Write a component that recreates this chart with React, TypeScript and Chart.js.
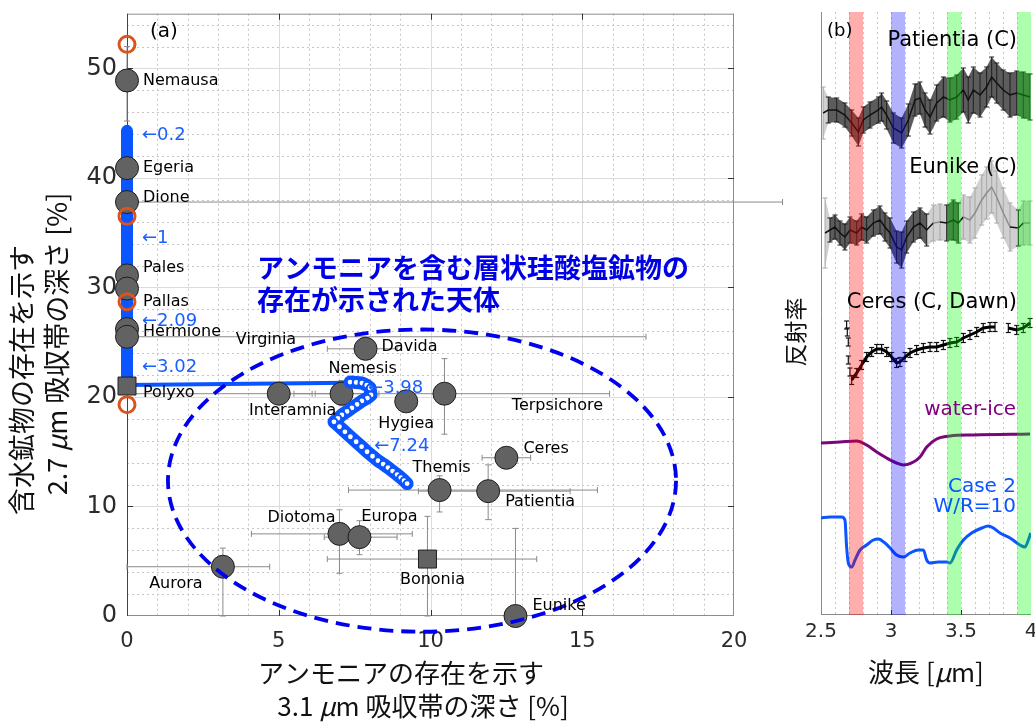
import React, { useEffect, useRef } from 'react';
import { Chart, registerables } from 'chart.js';

Chart.register(...registerables);

const FONT = "'DejaVu Sans', sans-serif";
const JFONT = "'Noto Sans CJK JP', sans-serif";

// ================= Panel (a) data =================
const asteroidNames = ['Nemausa', 'Egeria', 'Dione', 'Pales', 'Pallas', 'Hermione', 'Virginia', 'Polyxo', 'Interamnia', 'Nemesis', 'Davida', 'Hygiea', 'Terpsichore', 'Ceres', 'Themis', 'Patientia', 'Diotoma', 'Europa', 'Aurora', 'Bononia', 'Eunike'];
// 3.1 um band depth [%]
const nh4Depth = [0, 0, 0, 0, 0, 0, 0, 0, 5.0, 7.07, 7.86, 9.2, 10.46, 12.5, 10.3, 11.9, 7.0, 7.66, 3.16, 9.9, 12.8];
// 2.7 um band depth [%]
const ohDepth = [48.9, 40.9, 37.8, 31.1, 29.9, 26.2, 25.5, 21.0, 20.3, 20.3, 24.4, 19.6, 20.3, 14.45, 11.5, 11.4, 7.5, 7.2, 4.5, 5.2, 0];
const nh4ErrMin = [0, 0, 0, 0, 0, 0, 0, 0, 0, 6.2, 6.6, 9.2, 5.5, 11.7, 7.3, 9.6, 4.1, 6.5, 0, 6.6, 12.8];
const nh4ErrMax = [0, 0, 21.6, 0, 0, 0, 17.1, 0, 6.1, 8.3, 8.9, 9.2, 15.9, 13.3, 15.5, 14.6, 9.4, 8.9, 4.7, 13.5, 12.8];
const ohErrMin = [45.2, 40.9, 37.8, 31.1, 29.9, 26.2, 25.5, 21.0, 19.4, 19.2, 24.4, 19.0, 16.6, 13.9, 9.5, 8.8, 3.9, 5.6, 0, 0, 0];
const ohErrMax = [52.0, 40.9, 37.8, 31.1, 29.9, 26.2, 25.5, 21.0, 21.2, 21.5, 24.4, 20.2, 23.5, 15.0, 12.8, 13.8, 9.7, 8.7, 6.2, 9.1, 8.0];
const squareMarkers = ['Polyxo', 'Bononia'];

// orange open circles
const altNh4Depth = [0, 0, 0, 0];
const altOhDepth = [52.2, 36.5, 28.7, 19.3];

// model track (Case 2)
const modelTrunkX = [0, 0];
const modelTrunkY = [44.3, 21.1];
const modelBranchX = [0, 7.35];
const modelBranchY = [21.1, 21.3];
const modelTailX = [7.35, 7.55, 7.74, 7.9, 8.01, 8.04, 7.92, 7.74, 7.58, 7.41, 7.25, 7.08, 6.95, 6.82, 7.0, 7.18, 7.36, 7.55, 7.73, 7.91, 8.09, 8.27, 8.44, 8.6, 8.75, 8.9, 9.02, 9.13, 9.23];
const modelTailY = [21.36, 21.33, 21.27, 21.08, 20.82, 20.18, 19.9, 19.64, 19.32, 19.0, 18.68, 18.36, 18.05, 17.73, 17.28, 16.82, 16.37, 15.91, 15.46, 15.0, 14.59, 14.18, 13.87, 13.55, 13.23, 12.91, 12.64, 12.36, 12.09];

const wrLabels = ['0.2', '1', '2.09', '3.02', '3.98', '7.24'];
const wrX = [0, 0, 0, 0, 7.45, 7.65];
const wrY = [43.9, 34.5, 26.9, 22.7, 20.8, 15.5];

const ellipseCenter = [9.72, 12.36];
const ellipseRadii = [8.37, 13.8];

const xTicksA = [0, 5, 10, 15, 20];
const yTicksA = [0, 10, 20, 30, 40, 50];

// label layout (px offsets from marker)
const labelLayout: Record<string, [number, number, CanvasTextAlign]> = {
  Nemausa: [16, 0, 'left'], Egeria: [16, 0, 'left'], Dione: [16, -4, 'left'], Pales: [16, -8, 'left'],
  Pallas: [16, 13, 'left'], Hermione: [16, 3, 'left'], Virginia: [139, 3, 'center'], Polyxo: [16, 7, 'left'],
  Interamnia: [14, 17, 'center'], Nemesis: [21, -25, 'center'], Davida: [16, -2, 'left'], Hygiea: [0, 22, 'center'],
  Terpsichore: [113, 12, 'center'], Ceres: [17, -9, 'left'], Themis: [2, -22, 'center'], Patientia: [17, 11, 'left'],
  Diotoma: [-38, -16, 'center'], Europa: [30, -20, 'center'], Aurora: [-47, 17, 'center'], Bononia: [5, 21, 'center'],
  Eunike: [17, -10, 'left'],
};

// ================= Panel (b) data =================
const patWl = [2.515, 2.552, 2.612, 2.671, 2.719, 2.767, 2.802, 2.85, 2.91, 2.933, 2.969, 3.017, 3.076, 3.124, 3.171, 3.207, 3.243, 3.279, 3.326, 3.374, 3.421, 3.469, 3.517, 3.552, 3.588, 3.636, 3.683, 3.719, 3.755, 3.802, 3.85, 3.898, 3.945, 3.993];
const patVal = [50.2, 50.5, 50.5, 50.0, 49.2, 48.3, 49.5, 50.0, 50.5, 50.8, 50.0, 48.7, 48.2, 49.5, 51.5, 51.7, 50.5, 49.8, 51.2, 51.8, 51.5, 51.8, 52.5, 51.5, 52.5, 52.0, 52.8, 53.8, 53.2, 52.5, 52.0, 52.2, 52.0, 51.8];
const patErr = [2.6, 1.3, 1.2, 1.2, 1.3, 1.4, 1.3, 1.3, 1.3, 1.4, 1.4, 1.5, 1.5, 1.6, 1.6, 1.6, 1.7, 1.7, 1.8, 2.0, 2.2, 2.2, 2.2, 2.3, 2.3, 2.2, 2.0, 2.0, 2.0, 2.0, 2.2, 2.2, 2.3, 2.3];
const patFaint = [1, 0, 0, 0, 0, 0, 0, 0, 0, 0, 0, 0, 0, 0, 0, 0, 0, 0, 0, 0, 0, 0, 0, 0, 0, 0, 0, 0, 0, 0, 0, 0, 0, 0];

const eunWl = [2.529, 2.564, 2.6, 2.636, 2.671, 2.707, 2.755, 2.79, 2.826, 2.874, 2.921, 2.957, 2.993, 3.04, 3.076, 3.112, 3.16, 3.207, 3.255, 3.302, 3.35, 3.398, 3.445, 3.481, 3.517, 3.564, 3.6, 3.648, 3.683, 3.719, 3.755, 3.802, 3.85, 3.91, 3.945, 3.993];
const eunVal = [38.2, 38.5, 38.8, 38.2, 37.8, 38.5, 38.2, 38.8, 38.5, 39.2, 39.5, 38.8, 38.2, 36.8, 36.5, 37.8, 38.8, 39.2, 38.5, 39.2, 39.3, 39.2, 39.5, 39.2, 39.8, 39.5, 40.2, 41.5, 42.2, 42.8, 41.8, 40.2, 38.8, 38.7, 39.2, 39.2];
const eunErr = [3.5, 1.2, 1.2, 1.2, 1.3, 1.3, 1.2, 1.3, 1.3, 1.3, 1.4, 1.4, 1.5, 1.6, 1.8, 1.6, 1.5, 1.5, 1.6, 1.8, 1.8, 1.8, 2.0, 2.0, 2.2, 2.3, 2.5, 2.5, 2.6, 2.6, 2.6, 2.5, 2.4, 1.8, 2.2, 2.2];
const eunFaint = [1, 0, 0, 0, 0, 0, 0, 0, 0, 0, 0, 0, 0, 0, 0, 0, 0, 0, 0, 1, 1, 0, 0, 0, 1, 1, 1, 1, 1, 1, 1, 1, 1, 0, 1, 1];

const ceresWl = [2.719, 2.755, 2.79, 2.826, 2.862, 2.898, 2.933, 2.969, 3.005, 3.04, 3.064, 3.1, 3.136, 3.183, 3.231, 3.279, 3.326, 3.374, 3.421, 3.469, 3.517, 3.564, 3.612, 3.659, 3.707, 3.743, 3.79, 3.838, 3.898, 3.945, 3.993];
const ceresVal: (number | null)[] = [23.5, 24.2, 25.0, 25.8, 26.3, 26.6, 26.6, 26.3, 25.8, 25.2, 25.3, 25.8, 26.2, 26.5, 26.7, 26.8, 26.8, 27.0, 27.2, 27.3, 27.7, 28.0, 28.3, 28.7, 28.8, 28.8, null, 28.7, 28.5, 28.7, 29.2];
const ceresIsoWl = [2.683, 2.688, 2.695, 2.695, 2.707];
const ceresIsoVal = [29.0, 28.3, 27.3, 25.5, 24.3];

const iceWl = [2.498, 2.636, 2.755, 2.826, 2.898, 2.969, 3.04, 3.088, 3.16, 3.207, 3.255, 3.326, 3.421, 3.588, 3.993];
const iceVal = [17.2, 17.3, 17.4, 17.0, 16.3, 15.7, 15.2, 15.0, 15.3, 15.8, 16.8, 17.6, 17.9, 18.0, 18.1];

const case2Wl = [2.498, 2.564, 2.648, 2.671, 2.683, 2.695, 2.719, 2.743, 2.779, 2.826, 2.874, 2.91, 2.957, 2.993, 3.04, 3.088, 3.136, 3.195, 3.231, 3.255, 3.279, 3.338, 3.398, 3.421, 3.469, 3.517, 3.576, 3.648, 3.695, 3.731, 3.779, 3.85, 3.921, 3.957, 3.981, 3.998];
const case2Val = [9.7, 9.8, 9.8, 9.5, 6.8, 5.2, 4.8, 5.5, 6.5, 7.0, 7.5, 7.6, 7.2, 6.7, 6.0, 5.8, 6.2, 6.5, 6.5, 5.5, 5.2, 5.3, 5.3, 5.2, 6.5, 7.5, 8.2, 8.7, 8.9, 8.7, 8.2, 7.7, 7.0, 6.8, 7.5, 8.2];

const bandRanges = [[2.7, 2.8], [3.0, 3.1], [3.4, 3.5], [3.9, 4.0]];
const bandColors = ['rgba(255,0,0,0.32)', 'rgba(0,0,255,0.3)', 'rgba(0,255,0,0.32)', 'rgba(0,255,0,0.32)'];
const xTicksB = [2.5, 3, 3.5, 4];

const BLUE = '#0a55ff';
const B_LEFT = 780;

function seg(ctx: CanvasRenderingContext2D, x1: number, y1: number, x2: number, y2: number) {
  ctx.beginPath();
  ctx.moveTo(x1, y1);
  ctx.lineTo(x2, y2);
  ctx.stroke();
}

type Part = [string, string];
function drawParts(ctx: CanvasRenderingContext2D, parts: Part[], cx: number, cy: number, rot: number) {
  ctx.save();
  ctx.translate(cx, cy);
  ctx.rotate(rot);
  ctx.textBaseline = 'middle';
  ctx.textAlign = 'left';
  let total = 0;
  const widths = parts.map(([t, f]) => { ctx.font = f; const w = ctx.measureText(t).width; total += w; return w; });
  let xx = -total / 2;
  parts.forEach(([t, f], i) => { ctx.font = f; ctx.fillText(t, xx, 0); xx += widths[i]; });
  ctx.restore();
}

const panelAPlugin = {
  id: 'panelA',
  beforeDatasetsDraw(chart: any) {
    const { ctx, chartArea: a } = chart;
    const x = chart.scales.x, y = chart.scales.y;
    ctx.save();
    ctx.lineWidth = 1;
    // minor dotted grid
    ctx.strokeStyle = '#c6c6c6';
    ctx.setLineDash([2, 3]);
    for (let v = 1; v < 20; v++) {
      if (v % 5 === 0) continue;
      const p = Math.round(x.getPixelForValue(v)) + 0.5;
      seg(ctx, p, a.top, p, a.bottom);
    }
    for (let v = 2; v < 55; v += 2) {
      if (v % 10 === 0) continue;
      const p = Math.round(y.getPixelForValue(v)) + 0.5;
      seg(ctx, a.left, p, a.right, p);
    }
    ctx.setLineDash([]);
    // major grid
    ctx.strokeStyle = '#dcdcdc';
    [5, 10, 15].forEach((v) => { const p = Math.round(x.getPixelForValue(v)) + 0.5; seg(ctx, p, a.top, p, a.bottom); });
    [10, 20, 30, 40, 50].forEach((v) => { const p = Math.round(y.getPixelForValue(v)) + 0.5; seg(ctx, a.left, p, a.right, p); });
    // frame
    ctx.strokeStyle = '#8c8c8c';
    seg(ctx, a.left, a.top + 0.5, a.right, a.top + 0.5);
    seg(ctx, a.right - 0.5, a.top, a.right - 0.5, a.bottom);
    seg(ctx, a.left, a.bottom - 0.5, a.right, a.bottom - 0.5);
    ctx.strokeStyle = '#444';
    seg(ctx, a.left + 0.5, a.top, a.left + 0.5, a.bottom);
    // tick marks
    ctx.strokeStyle = '#333';
    [5, 10, 15].forEach((v) => {
      const p = Math.round(x.getPixelForValue(v)) + 0.5;
      seg(ctx, p, a.bottom, p, a.bottom - 6);
      seg(ctx, p, a.top, p, a.top + 6);
    });
    [10, 20, 30, 40, 50].forEach((v) => {
      const p = Math.round(y.getPixelForValue(v)) + 0.5;
      seg(ctx, a.left, p, a.left + 6, p);
      seg(ctx, a.right, p, a.right - 6, p);
    });
    // error bars
    ctx.strokeStyle = '#8a8a8a';
    ctx.lineWidth = 1;
    asteroidNames.forEach((_, i) => {
      const px = x.getPixelForValue(nh4Depth[i]);
      const py = y.getPixelForValue(ohDepth[i]);
      if (nh4ErrMax[i] > nh4ErrMin[i]) {
        const x0 = x.getPixelForValue(nh4ErrMin[i]);
        const x1 = x.getPixelForValue(nh4ErrMax[i]);
        seg(ctx, x0, py, x1, py);
        seg(ctx, x0, py - 3, x0, py + 3);
        seg(ctx, x1, py - 3, x1, py + 3);
      }
      if (ohErrMax[i] > ohErrMin[i]) {
        const y0 = y.getPixelForValue(ohErrMin[i]);
        const y1 = y.getPixelForValue(ohErrMax[i]);
        seg(ctx, px, y0, px, y1);
        seg(ctx, px - 3, y0, px + 3, y0);
        seg(ctx, px - 3, y1, px + 3, y1);
      }
    });
    ctx.restore();
  },
  afterDatasetsDraw(chart: any) {
    const { ctx } = chart;
    const x = chart.scales.x, y = chart.scales.y;
    ctx.save();
    // ellipse
    const cx = x.getPixelForValue(ellipseCenter[0]);
    const cy = y.getPixelForValue(ellipseCenter[1]);
    const rx = x.getPixelForValue(ellipseCenter[0] + ellipseRadii[0]) - cx;
    const ry = cy - y.getPixelForValue(ellipseCenter[1] + ellipseRadii[1]);
    ctx.strokeStyle = '#0000ee';
    ctx.lineWidth = 3.8;
    ctx.setLineDash([14, 8]);
    ctx.beginPath();
    ctx.ellipse(cx, cy, rx, ry, 0, 0, Math.PI * 2);
    ctx.stroke();
    ctx.setLineDash([]);
    // asteroid names
    ctx.fillStyle = '#000';
    ctx.font = `16px ${FONT}`;
    ctx.textBaseline = 'middle';
    asteroidNames.forEach((n, i) => {
      const [dx, dy, al] = labelLayout[n];
      ctx.textAlign = al;
      ctx.fillText(n, x.getPixelForValue(nh4Depth[i]) + dx, y.getPixelForValue(ohDepth[i]) + dy);
    });
    // W/R labels
    ctx.fillStyle = '#1a5fff';
    ctx.font = `18px ${FONT}`;
    ctx.textAlign = 'left';
    wrLabels.forEach((t, i) => {
      ctx.fillText('\u2190' + t, x.getPixelForValue(wrX[i]) + 15, y.getPixelForValue(wrY[i]));
    });
    // annotation
    ctx.fillStyle = '#0000e6';
    ctx.font = `bold 27px ${JFONT}`;
    ctx.fillText('アンモニアを含む層状珪酸塩鉱物の', 257, 268);
    ctx.fillText('存在が示された天体', 257, 300);
    // panel tag
    ctx.fillStyle = '#000';
    ctx.font = `20px ${FONT}`;
    ctx.fillText('(a)', 150, 32);
    // axis titles
    ctx.fillStyle = '#111';
    const jf = `26px ${JFONT}`;
    const jfi = `italic 26px ${JFONT}`;
    drawParts(ctx, [['アンモニアの存在を示す', jf]], 401, 673, 0);
    drawParts(ctx, [['3.1 ', jf], ['\u03bc', jfi], ['m 吸収帯の深さ [%]', jf]], 423, 706, 0);
    const yf = `27px ${JFONT}`;
    const yfi = `italic 27px ${JFONT}`;
    drawParts(ctx, [['含水鉱物の存在を示す', yf]], 22, 380, -Math.PI / 2);
    drawParts(ctx, [['2.7 ', yf], ['\u03bc', yfi], ['m 吸収帯の深さ [%]', yf]], 57, 344, -Math.PI / 2);
    ctx.restore();
  },
};

function drawErrBand(ctx: CanvasRenderingContext2D, x: any, y: any, wl: number[], val: number[], err: number[], faint: number[]) {
  for (let i = 0; i < wl.length - 1; i++) {
    const f = faint[i] || faint[i + 1];
    ctx.fillStyle = f ? '#d0d0d0' : '#5c5c5c';
    const x0 = x.getPixelForValue(wl[i]);
    const x1 = x.getPixelForValue(wl[i + 1]);
    ctx.beginPath();
    ctx.moveTo(x0, y.getPixelForValue(val[i] + err[i]));
    ctx.lineTo(x1, y.getPixelForValue(val[i + 1] + err[i + 1]));
    ctx.lineTo(x1, y.getPixelForValue(val[i + 1] - err[i + 1]));
    ctx.lineTo(x0, y.getPixelForValue(val[i] - err[i]));
    ctx.closePath();
    ctx.fill();
  }
  ctx.lineWidth = 1;
  for (let i = 0; i < wl.length; i++) {
    ctx.strokeStyle = faint[i] ? '#a6a6a6' : '#1a1a1a';
    const px = x.getPixelForValue(wl[i]);
    const y0 = y.getPixelForValue(val[i] - err[i]);
    const y1 = y.getPixelForValue(val[i] + err[i]);
    seg(ctx, px, y0, px, y1);
    seg(ctx, px - 2.5, y0, px + 2.5, y0);
    seg(ctx, px - 2.5, y1, px + 2.5, y1);
  }
}

const panelBPlugin = {
  id: 'panelB',
  beforeDatasetsDraw(chart: any) {
    const { ctx, chartArea: a } = chart;
    const x = chart.scales.x, y = chart.scales.y;
    ctx.save();
    ctx.lineWidth = 1;
    ctx.strokeStyle = '#c8c8c8';
    ctx.setLineDash([2, 3]);
    for (let k = 1; k < 15; k++) {
      const p = Math.round(x.getPixelForValue(2.5 + k * 0.1)) + 0.5;
      seg(ctx, p, a.top, p, a.bottom);
    }
    ctx.setLineDash([]);
    ctx.strokeStyle = '#8a8a8a';
    seg(ctx, a.left + 0.5, a.top, a.left + 0.5, a.bottom);
    seg(ctx, a.left, a.bottom - 0.5, a.right, a.bottom - 0.5);
    ctx.strokeStyle = '#333';
    [3, 3.5].forEach((v) => { const p = Math.round(x.getPixelForValue(v)) + 0.5; seg(ctx, p, a.bottom, p, a.bottom - 5); });
    drawErrBand(ctx, x, y, patWl, patVal, patErr, patFaint);
    drawErrBand(ctx, x, y, eunWl, eunVal, eunErr, eunFaint);
    // ceres error ticks
    ctx.strokeStyle = '#111';
    ctx.lineWidth = 1.2;
    const ceresBars = (wl: number[], val: (number | null)[], e: number) => {
      wl.forEach((w, i) => {
        const v = val[i];
        if (v === null) return;
        const px = x.getPixelForValue(w);
        const y0 = y.getPixelForValue(v - e);
        const y1 = y.getPixelForValue(v + e);
        seg(ctx, px, y0, px, y1);
        seg(ctx, px - 2.5, y0, px + 2.5, y0);
        seg(ctx, px - 2.5, y1, px + 2.5, y1);
      });
    };
    ceresBars(ceresWl, ceresVal, 0.45);
    ceresBars(ceresIsoWl, ceresIsoVal, 0.4);
    ctx.restore();
  },
  afterDatasetsDraw(chart: any) {
    const { ctx, chartArea: a } = chart;
    const x = chart.scales.x;
    ctx.save();
    bandRanges.forEach(([lo, hi], i) => {
      const x0 = x.getPixelForValue(lo);
      const x1 = x.getPixelForValue(hi);
      ctx.fillStyle = bandColors[i];
      ctx.fillRect(x0, a.top, x1 - x0, a.bottom - a.top);
    });
    ctx.textBaseline = 'middle';
    const L = (px: number) => px - B_LEFT;
    ctx.fillStyle = '#000';
    ctx.font = `18px ${FONT}`;
    ctx.textAlign = 'left';
    ctx.fillText('(b)', L(827), 31);
    ctx.font = `21px ${FONT}`;
    ctx.textAlign = 'right';
    ctx.fillText('Patientia (C)', L(1017), 41);
    ctx.fillText('Eunike (C)', L(1017), 168);
    ctx.fillText('Ceres (C, Dawn)', L(1017), 303);
    ctx.fillStyle = '#800080';
    ctx.font = `20px ${FONT}`;
    ctx.fillText('water-ice', L(1016), 410);
    ctx.fillStyle = BLUE;
    ctx.fillText('Case 2', L(1016), 487);
    ctx.fillText('W/R=10', L(1016), 507);
    // titles
    ctx.fillStyle = '#111';
    drawParts(ctx, [['反射率', `23px ${JFONT}`]], L(795), 332, -Math.PI / 2);
    drawParts(ctx, [['波長 [', `26px ${JFONT}`], ['\u03bc', `italic 26px ${JFONT}`], ['m]', `26px ${JFONT}`]], L(926), 672, 0);
    ctx.restore();
  },
};

function PanelA() {
  const ref = useRef<HTMLCanvasElement>(null);
  useEffect(() => {
    const pts = (xs: number[], ys: number[]) => xs.map((v, i) => ({ x: v, y: ys[i] }));
    const chart = new Chart(ref.current as HTMLCanvasElement, {
      type: 'scatter',
      data: {
        datasets: [
          { label: 'alt', data: pts(altNh4Depth, altOhDepth), pointRadius: 8, pointBorderWidth: 3, pointBorderColor: '#d9541e', pointBackgroundColor: 'rgba(0,0,0,0)', clip: false } as any,
          { label: 'model tail', data: pts(modelTailX, modelTailY), showLine: true, borderColor: BLUE, borderWidth: 13, borderCapStyle: 'round', borderJoinStyle: 'round', pointRadius: 3.4, pointBorderWidth: 2, pointBorderColor: BLUE, pointBackgroundColor: '#ffffff', clip: false },
          { label: 'asteroids', data: pts(nh4Depth, ohDepth), pointStyle: asteroidNames.map((n) => (squareMarkers.includes(n) ? 'rect' : 'circle')), pointRadius: asteroidNames.map((n) => (squareMarkers.includes(n) ? 12.7 : 11.5)), pointBackgroundColor: '#626262', pointBorderColor: '#1e1e1e', pointBorderWidth: 1, clip: false },
          { label: 'model branch', data: pts(modelBranchX, modelBranchY), showLine: true, borderColor: BLUE, borderWidth: 4, pointRadius: 0, clip: false },
          { label: 'model trunk', data: pts(modelTrunkX, modelTrunkY), showLine: true, borderColor: BLUE, borderWidth: 12, borderCapStyle: 'round', pointRadius: 0, clip: false },
        ],
      },
      options: {
        animation: false,
        responsive: false,
        devicePixelRatio: 1,
        layout: { padding: { top: 12, right: 56, left: 0, bottom: 0 } },
        plugins: { legend: { display: false }, tooltip: { enabled: false } },
        scales: {
          x: {
            type: 'linear', min: 0, max: 20,
            grid: { display: false, drawTicks: false }, border: { display: false },
            afterBuildTicks: (s: any) => { s.ticks = xTicksA.map((v) => ({ value: v })); },
            ticks: { font: { family: FONT, size: 21 }, color: '#2b2b2b', padding: 13, maxRotation: 0, autoSkip: false, callback: (v: any) => String(v) },
            afterFit: (s: any) => { s.height = 108; s.paddingLeft = 0; s.paddingRight = 0; },
          },
          y: {
            type: 'linear', min: 0, max: 55,
            grid: { display: false, drawTicks: false }, border: { display: false },
            afterBuildTicks: (s: any) => { s.ticks = yTicksA.map((v) => ({ value: v })); },
            ticks: { font: { family: FONT, size: 24 }, color: '#2b2b2b', padding: 10, autoSkip: false, callback: (v: any) => String(v) },
            afterFit: (s: any) => { s.width = 127; s.paddingTop = 0; s.paddingBottom = 0; },
          },
        },
      } as any,
      plugins: [panelAPlugin],
    });
    return () => chart.destroy();
  }, []);
  return <canvas ref={ref} width={790} height={724} style={{ position: 'absolute', left: 0, top: 0, width: 790, height: 724 }} />;
}

function PanelB() {
  const ref = useRef<HTMLCanvasElement>(null);
  useEffect(() => {
    const pts = (xs: number[], ys: (number | null)[]) => xs.map((v, i) => ({ x: v, y: ys[i] }));
    const chart = new Chart(ref.current as HTMLCanvasElement, {
      type: 'scatter',
      data: {
        datasets: [
          { label: 'Patientia', data: pts(patWl, patVal), showLine: true, borderColor: '#111', borderWidth: 1.5, pointRadius: 0,
            segment: { borderColor: (c: any) => (patFaint[c.p0DataIndex] && patFaint[c.p1DataIndex] ? '#8c8c8c' : '#111') } },
          { label: 'Eunike', data: pts(eunWl, eunVal), showLine: true, borderColor: '#111', borderWidth: 1.5, pointRadius: 0,
            segment: { borderColor: (c: any) => (eunFaint[c.p0DataIndex] && eunFaint[c.p1DataIndex] ? '#8c8c8c' : '#111') } },
          { label: 'Ceres', data: pts(ceresWl, ceresVal), showLine: true, spanGaps: false, borderColor: '#000', borderWidth: 3, pointRadius: 0 },
          { label: 'Ceres edge', data: pts(ceresIsoWl, ceresIsoVal), showLine: false, pointRadius: 0 },
          { label: 'water-ice', data: pts(iceWl, iceVal), showLine: true, borderColor: '#7a067a', borderWidth: 3, pointRadius: 0, cubicInterpolationMode: 'monotone' },
          { label: 'Case 2', data: pts(case2Wl, case2Val), showLine: true, borderColor: BLUE, borderWidth: 3, pointRadius: 0, cubicInterpolationMode: 'monotone' },
        ],
      } as any,
      options: {
        animation: false,
        responsive: false,
        devicePixelRatio: 1,
        layout: { padding: { top: 12, right: 4, left: 41, bottom: 0 } },
        plugins: { legend: { display: false }, tooltip: { enabled: false } },
        scales: {
          x: {
            type: 'linear', min: 2.5, max: 4,
            grid: { display: false, drawTicks: false }, border: { display: false },
            afterBuildTicks: (s: any) => { s.ticks = xTicksB.map((v) => ({ value: v })); },
            ticks: { font: { family: FONT, size: 20 }, color: '#2b2b2b', padding: 5, maxRotation: 0, autoSkip: false, callback: (v: any) => String(v) },
            afterFit: (s: any) => { s.height = 109; s.paddingLeft = 0; s.paddingRight = 0; },
          },
          y: { type: 'linear', min: 0, max: 60.3, display: false },
        },
      } as any,
      plugins: [panelBPlugin],
    });
    return () => chart.destroy();
  }, []);
  return <canvas ref={ref} width={255} height={724} style={{ position: 'absolute', left: B_LEFT, top: 0, width: 255, height: 724 }} />;
}

export default function App() {
  return (
    <div style={{ position: 'fixed', left: 0, top: 0, width: 1035, height: 724, background: '#ffffff', overflow: 'hidden' }}>
      <PanelA />
      <PanelB />
    </div>
  );
}
